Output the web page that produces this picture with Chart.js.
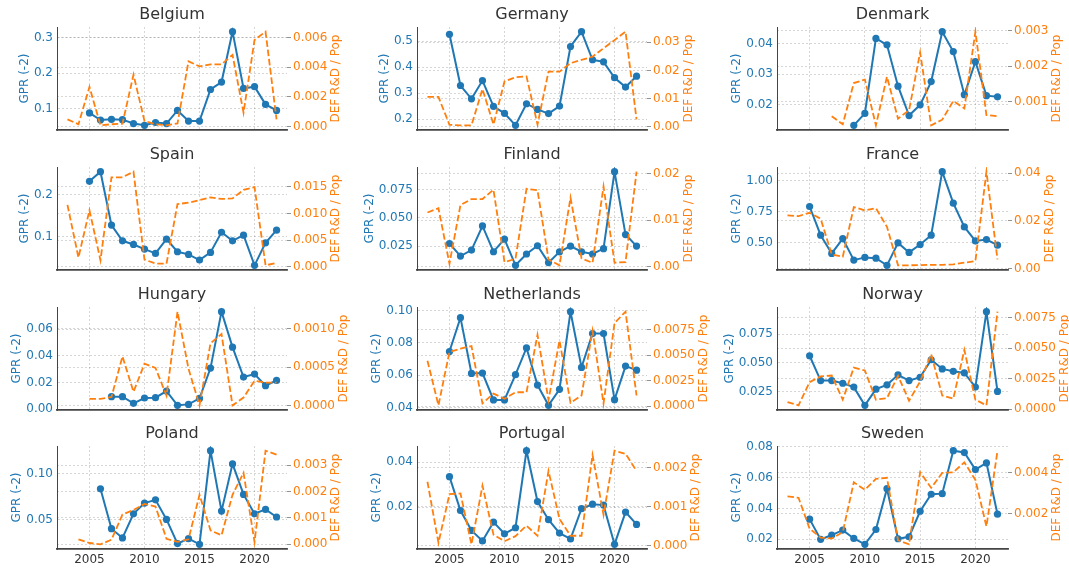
<!DOCTYPE html>
<html><head><meta charset="utf-8">
<script src="https://cdn.jsdelivr.net/npm/chart.js@4"></script>
<style>
html,body{margin:0;padding:0;background:#fff;overflow:hidden;width:1069px;height:568px;position:relative}
canvas{position:absolute}
</style>
</head><body>
<script>
const YEARS = [2003,2004,2005,2006,2007,2008,2009,2010,2011,2012,2013,2014,2015,2016,2017,2018,2019,2020,2021,2022];
const X_TICKS = [2005,2010,2015,2020];

const gprBelgium = [null,null,0.088,0.068,0.070,0.069,0.058,0.053,0.061,0.058,0.095,0.065,0.065,0.154,0.175,0.317,0.157,0.162,0.112,0.095];
const defBelgium = [0.00049,0.00016,0.00268,0.00009,0.00016,0.0002,0.0035,0.00038,0.00016,0.00009,0.00022,0.0044,0.00406,0.0042,0.0042,0.00484,0.00094,0.00584,0.0064,0.00049];

const gprGermany = [null,null,0.527,0.330,0.279,0.349,0.250,0.223,0.177,0.260,0.238,0.222,0.251,0.480,0.537,0.429,0.421,0.360,0.324,0.366];
const defGermany = [0.0106,0.0106,0.0007,0.0005,0.0005,0.0134,0.0008,0.0161,0.0176,0.0179,0.0008,0.0196,0.0196,0.0226,0.0238,0.0249,0.0279,0.0308,0.0338,0.0026];

const gprDenmark = [null,null,null,null,null,null,0.0133,0.0172,0.0417,0.0396,0.0261,0.0165,0.0200,0.0276,0.0439,0.0374,0.0233,0.0341,0.0230,0.0226];
const defDenmark = [null,null,null,null,0.00058,0.00035,0.00152,0.00162,0.00032,0.0017,0.00051,0.00075,0.00239,0.00032,0.00048,0.00101,0.0008,0.00298,0.00061,0.00058];

const gprSpain = [null,null,0.232,0.255,0.128,0.0906,0.0819,0.0709,0.0606,0.0945,0.0646,0.0583,0.0449,0.063,0.111,0.0906,0.104,0.0323,0.0858,0.116];
const defSpain = [0.0116,0.00175,0.0106,0.00125,0.01675,0.01675,0.0178,0.00138,0.000625,0.000625,0.01175,0.012,0.0125,0.013,0.0127,0.0128,0.0144,0.0149,0.0003,0.00075];

const gprFinland = [null,null,0.0273,0.0162,0.0215,0.0428,0.020,0.0311,0.0080,0.0180,0.0253,0.0104,0.0200,0.025,0.020,0.018,0.0227,0.0908,0.0352,0.025];
const defFinland = [0.0117,0.0126,0.00063,0.0133,0.0146,0.0146,0.0166,0.001,0.0017,0.0168,0.0165,0.00155,0.0003,0.0149,0.0018,0.00085,0.0173,0.00085,0.001,0.0205];

const gprFrance = [null,null,0.791,0.559,0.412,0.532,0.358,0.380,0.374,0.316,0.497,0.420,0.484,0.559,1.072,0.818,0.626,0.513,0.524,0.479];
const defFrance = [0.0223,0.022,0.0234,0.0209,0.0059,0.0049,0.0258,0.0244,0.0253,0.0175,0.0013,0.0013,0.0014,0.0015,0.0015,0.0017,0.0024,0.0031,0.0407,0.0038];

const gprHungary = [null,null,null,null,0.00946,0.00946,0.0045,0.0085,0.0087,0.0137,0.003,0.0037,0.0082,0.0309,0.0732,0.0466,0.0242,0.0264,0.0177,0.0217];
const defHungary = [null,null,0.0000877,0.0000877,0.000114,0.00064,0.00018,0.000544,0.00049,0.00013,0.00122,0.00048,0.000005,0.00081,0.00093,0.000005,0.000105,0.000325,0.0003,0.0003];

const gprNetherlands = [null,null,0.0746,0.0955,0.0611,0.0613,0.0447,0.0447,0.0603,0.0768,0.0539,0.0414,0.0513,0.0992,0.0648,0.0857,0.0857,0.0449,0.0656,0.0631];
const defNetherlands = [0.00446,0.0001,0.00532,0.00564,0.0059,0.00029,0.00125,0.00074,0.00138,0.00138,0.00699,0.00061,0.00644,0.00035,0.00106,0.0074,0.00029,0.00814,0.00926,0.00106];

const gprNorway = [null,null,0.0562,0.0345,0.0345,0.0322,0.0288,0.0129,0.027,0.0308,0.0395,0.0345,0.0374,0.0527,0.0447,0.0426,0.0412,0.0288,0.0947,0.025];
const defNorway = [0.0006,0.00033,0.00223,0.00269,0.00277,0.00079,0.00342,0.00318,0.00079,0.00092,0.00274,0.00071,0.00228,0.00451,0.00114,0.00087,0.00486,0.00079,0.00033,0.00799];

const gprPoland = [null,null,null,0.0836,0.0398,0.0296,0.0562,0.0679,0.0715,0.05,0.0234,0.0288,0.0226,0.1255,0.0591,0.111,0.0774,0.0562,0.061,0.0526];
const defPoland = [null,0.00019,0.00005,0.0,0.000175,0.00113,0.0013,0.00153,0.00143,0.00021,0.00009,0.00019,0.00188,0.00053,0.00034,0.00188,0.00271,0.00009,0.00355,0.0034];

const gprPortugal = [null,null,0.0336,0.0185,0.0096,0.0049,0.0133,0.0081,0.0108,0.0452,0.0225,0.0144,0.0084,0.0058,0.0193,0.0213,0.0209,0.0034,0.0178,0.0123];
const defPortugal = [0.00164,0.00007,0.00132,0.00134,0.00003,0.00154,0.00028,0.00011,0.00024,0.00051,0.00025,0.00192,0.00068,0.00025,0.00025,0.00233,0.00079,0.00244,0.00236,0.00192];

const gprSweden = [null,null,0.0331,0.02,0.0228,0.026,0.0206,0.0168,0.0264,0.0528,0.0204,0.0217,0.0382,0.0492,0.0496,0.0774,0.0762,0.0652,0.0695,0.0363];
const defSweden = [0.00285,0.00278,0.00127,0.00083,0.00078,0.0011,0.00354,0.00317,0.00371,0.00376,0.0007,0.0005,0.00403,0.00327,0.004,0.00403,0.00452,0.00366,0.00138,0.00509];

// tick values per panel
const PANELS = [
  {name:'Belgium', gpr:gprBelgium, def:defBelgium, gT:[0.1,0.2,0.3], gD:1, dT:[0,0.002,0.004,0.006], dD:3},
  {name:'Germany', gpr:gprGermany, def:defGermany, gT:[0.2,0.3,0.4,0.5], gD:1, dT:[0,0.01,0.02,0.03], dD:2},
  {name:'Denmark', gpr:gprDenmark, def:defDenmark, gT:[0.02,0.03,0.04], gD:2, dT:[0.001,0.002,0.003], dD:3},
  {name:'Spain', gpr:gprSpain, def:defSpain, gT:[0.1,0.2], gD:1, dT:[0,0.005,0.01,0.015], dD:3},
  {name:'Finland', gpr:gprFinland, def:defFinland, gT:[0.025,0.05,0.075], gD:3, dT:[0,0.01,0.02], dD:2},
  {name:'France', gpr:gprFrance, def:defFrance, gT:[0.5,0.75,1.0], gD:2, dT:[0,0.02,0.04], dD:2},
  {name:'Hungary', gpr:gprHungary, def:defHungary, gT:[0,0.02,0.04,0.06], gD:2, dT:[0,0.0005,0.001], dD:4},
  {name:'Netherlands', gpr:gprNetherlands, def:defNetherlands, gT:[0.04,0.06,0.08,0.1], gD:2, dT:[0,0.0025,0.005,0.0075], dD:4},
  {name:'Norway', gpr:gprNorway, def:defNorway, gT:[0.025,0.05,0.075], gD:3, dT:[0,0.0025,0.005,0.0075], dD:4},
  {name:'Poland', gpr:gprPoland, def:defPoland, gT:[0.05,0.1], gD:2, dT:[0,0.001,0.002,0.003], dD:3},
  {name:'Portugal', gpr:gprPortugal, def:defPortugal, gT:[0.02,0.04], gD:2, dT:[0,0.001,0.002], dD:3},
  {name:'Sweden', gpr:gprSweden, def:defSweden, gT:[0.02,0.04,0.06,0.08], gD:2, dT:[0.002,0.004], dD:3}
];

const BLUE = '#1f77b4', ORANGE = '#ff7f0e';
const GRID = 'rgba(0,0,0,0.2)';
const COL_L = [57,417,777], COL_W = [230,230,231];
const ROW_T = [27,167,307,446];
const PLOT_H = 103, LEFT_W = 57, RIGHT_W = 72, TOP_H = 27, BOTTOM_H = 19;
const X_MIN = YEARS[0] - 0.05*(YEARS[YEARS.length-1]-YEARS[0]);
const X_MAX = YEARS[YEARS.length-1] + 0.05*(YEARS[YEARS.length-1]-YEARS[0]);
const TICK_FONT = 12, LABEL_FONT = 12, GAP = 3;

Chart.defaults.font.family = "'DejaVu Sans', sans-serif";
Chart.defaults.color = '#333';

function autoRange(arr){
  const v = arr.filter(a => a !== null);
  const mn = Math.min(...v), mx = Math.max(...v), pad = (mx-mn)*0.05;
  return [mn-pad, mx+pad];
}

const axisTitles = {
  id:'axisTitles',
  afterDraw(chart){
    const {ctx, chartArea, scales} = chart;
    ctx.save();
    ctx.font = TICK_FONT + "px 'DejaVu Sans'";
    const wl = Math.max(...scales.y.ticks.map(t => ctx.measureText(String(t.label)).width));
    const wr = Math.max(...scales.y1.ticks.map(t => ctx.measureText(String(t.label)).width));
    ctx.font = LABEL_FONT + "px 'DejaVu Sans'";
    ctx.textAlign = 'center'; ctx.textBaseline = 'middle';
    const cy = (chartArea.top + chartArea.bottom)/2;
    const xl = chartArea.left - 4 - wl - GAP - LABEL_FONT/2;
    ctx.save(); ctx.translate(xl, cy); ctx.rotate(-Math.PI/2);
    ctx.fillStyle = BLUE; ctx.fillText('GPR (-2)', 0, 0); ctx.restore();
    const xr = chartArea.right + 6 + wr + GAP + LABEL_FONT/2;
    ctx.save(); ctx.translate(xr, cy); ctx.rotate(-Math.PI/2);
    ctx.fillStyle = ORANGE; ctx.fillText('DEF R&D / Pop', 0, 0); ctx.restore();
    ctx.restore();
  }
};

function makeChart(p, r, c){
  const L = COL_L[c], W = COL_W[c], T = ROW_T[r];
  const cv = document.createElement('canvas');
  const cw = LEFT_W + W + RIGHT_W, ch = TOP_H + PLOT_H + BOTTOM_H;
  cv.width = cw; cv.height = ch;
  cv.style.left = (L-LEFT_W)+'px'; cv.style.top = (T-TOP_H)+'px';
  cv.style.width = cw+'px'; cv.style.height = ch+'px';
  document.body.appendChild(cv);
  const [gMin,gMax] = autoRange(p.gpr), [dMin,dMax] = autoRange(p.def);
  const pts = arr => YEARS.map((y,i) => ({x:y, y:arr[i]}));
  new Chart(cv, {
    type:'line',
    data:{datasets:[
      {data:pts(p.def), yAxisID:'y1', borderColor:ORANGE, borderWidth:1.8, borderDash:[6.5,2.8],
       pointRadius:0, fill:false, tension:0, order:1},
      {data:pts(p.gpr), yAxisID:'y', borderColor:BLUE, backgroundColor:BLUE, borderWidth:2,
       pointRadius:3.6, pointBorderWidth:0, pointBackgroundColor:BLUE, fill:false, tension:0, order:2}
    ]},
    options:{
      responsive:false, animation:false, events:[], devicePixelRatio:1,
      layout:{padding:0},
      plugins:{
        legend:{display:false}, tooltip:{enabled:false},
        title:{display:true, text:p.name, color:'#333', font:{size:16, weight:'normal'},
               padding:{top:5.5, bottom:2.3}, fullSize:false}
      },
      scales:{
        x:{type:'linear', min:X_MIN, max:X_MAX,
           afterBuildTicks:s => { s.ticks = X_TICKS.map(v => ({value:v})); },
           afterFit:s => { s.height = BOTTOM_H; },
           ticks:{display:r===3, color:'#333', font:{size:TICK_FONT}, padding:2, maxRotation:0, autoSkip:false,
                  callback:v => String(v)},
           grid:{color:GRID, lineWidth:0.8, drawTicks:true, tickLength:2, tickColor:'rgba(0,0,0,0)'},
           border:{display:true, color:'#444', width:1.8, dash:[2,2]}},
        y:{type:'linear', position:'left', min:gMin, max:gMax,
           afterBuildTicks:s => { s.ticks = p.gT.map(v => ({value:v})); },
           afterFit:s => { s.width = LEFT_W; },
           ticks:{color:BLUE, font:{size:TICK_FONT}, padding:2, callback:v => Number(v).toFixed(p.gD)},
           grid:{color:GRID, lineWidth:0.8, drawTicks:true, tickLength:2, tickColor:'rgba(0,0,0,0)'},
           border:{display:true, color:'#444', width:1, dash:[2,2]}},
        y1:{type:'linear', position:'right', min:dMin, max:dMax,
           afterBuildTicks:s => { s.ticks = p.dT.map(v => ({value:v})); },
           afterFit:s => { s.width = RIGHT_W; },
           ticks:{color:ORANGE, font:{size:TICK_FONT}, padding:2, callback:v => Number(v).toFixed(p.dD)},
           grid:{color:GRID, lineWidth:0.8, drawTicks:true, tickLength:4, tickColor:'#777'},
           border:{display:false, dash:[2,2]}}
      }
    },
    plugins:[axisTitles]
  });
}

PANELS.forEach((p,i) => makeChart(p, Math.floor(i/3), i%3));
</script>
</body></html>
